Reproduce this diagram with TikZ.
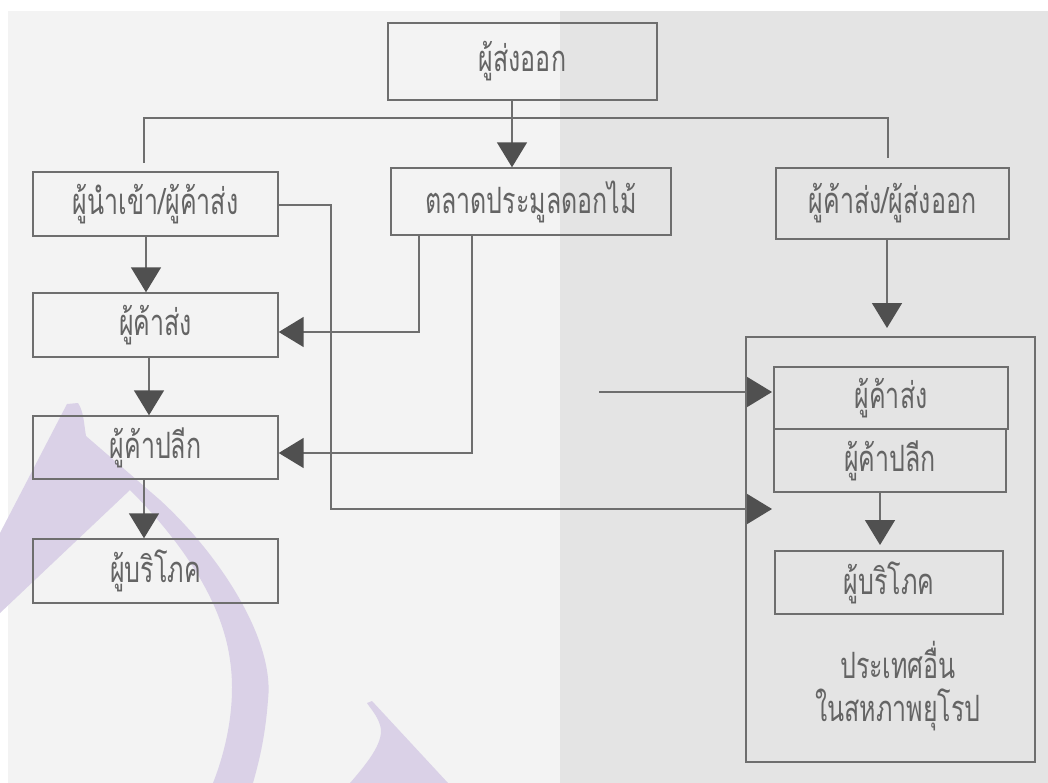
\documentclass[tikz,border=0pt]{standalone}
\usepackage{fontspec}
\usepackage{graphicx}
\newfontfamily\thaifont[Script=Thai]{Loma}
\usetikzlibrary{arrows.meta}
\definecolor{paperL}{HTML}{F3F3F3}
\definecolor{paperR}{HTML}{E4E4E4}
\definecolor{inkline}{HTML}{6E6E6E}
\definecolor{inktip}{HTML}{505050}
\definecolor{inktext}{HTML}{646464}
\definecolor{wmark}{HTML}{DAD1E7}
% tall, narrow lettering
\newcommand{\tall}[1]{\scalebox{1}[1.45]{#1}}
\tikzset{
  box/.style={draw=inkline, line width=1.4pt, rectangle, inner sep=0pt,
    font=\thaifont\fontsize{25}{28}\selectfont, text=inktext},
  ln/.style={draw=inkline, line width=1.6pt},
  ar/.style={ln, -{Triangle[length=25pt,width=30pt,color=inktip]}},
  lbl/.style={font=\thaifont\fontsize{25}{28}\selectfont, text=inktext, inner sep=0pt}
}
\begin{document}
\begin{tikzpicture}[x=1pt,y=-1pt]
% paper
\fill[white] (0,0) rectangle (1048,783);
\fill[paperL] (8,11) rectangle (560,783);
\fill[paperR] (560,11) rectangle (1048,783);
\useasboundingbox (0,0) rectangle (1048,783);
% watermark strokes
\fill[wmark] (67,404) -- (78,403) .. controls (84,412) and (84,425) .. (86,436)
  -- (160,500) .. controls (220,555) and (275,640) .. (268,700)
  .. controls (265,740) and (258,765) .. (253,783) -- (213,783)
  .. controls (228,745) and (236,700) .. (230,660)
  .. controls (222,600) and (180,540) .. (130,490)
  -- (0,613) -- (0,533) -- cycle;
\fill[wmark] (367,703) -- (372,701) -- (448,783) -- (350,783)
  .. controls (370,760) and (385,740) .. (380,725)
  .. controls (377,715) and (370,708) .. (367,703) -- cycle;

% boxes
\node[box, minimum width=269pt, minimum height=77pt] (exp) at (522.5,61.5) {\tall{ผู้ส่งออก}};
\node[box, minimum width=245pt, minimum height=64pt] (imp) at (155.5,204) {\tall{ผู้นำเข้า/ผู้ค้าส่ง}};
\node[box, minimum width=280pt, minimum height=67pt] (mkt) at (531,201.5) {\tall{ตลาดประมูลดอกไม้}};
\node[box, minimum width=233pt, minimum height=71pt] (wex) at (892.5,203.5) {\tall{ผู้ค้าส่ง/ผู้ส่งออก}};
\node[box, minimum width=245pt, minimum height=64pt] (ws) at (155.5,325) {\tall{ผู้ค้าส่ง}};
\node[box, minimum width=245pt, minimum height=63pt] (rt) at (155.5,447.5) {\tall{ผู้ค้าปลีก}};
\node[box, minimum width=245pt, minimum height=64pt] (cons) at (155.5,571) {\tall{ผู้บริโภค}};
\node[box, minimum width=289pt, minimum height=425pt] (eu) at (890.5,549.5) {};
\node[box, minimum width=234pt, minimum height=62pt] (euws) at (891,398) {\tall{ผู้ค้าส่ง}};
\node[box, minimum width=232pt, minimum height=63pt] (eurt) at (890,460.5) {\tall{ผู้ค้าปลีก}};
\node[box, minimum width=228pt, minimum height=63pt] (eucons) at (889,582.5) {\tall{ผู้บริโภค}};
\node[lbl] (eu1) at (898,660) {\tall{ประเทศอื่น}};
\node[lbl] (eu2) at (898,710) {\tall{ในสหภาพยุโรป}};

% junction points
\coordinate (barL) at (144,118);
\coordinate (barR) at (888,118);
\coordinate (impUp) at (144,163);
\coordinate (wexUp) at (888,158);
\coordinate (midX) at (512,0);
\coordinate (mA) at (419,0);
\coordinate (mB) at (472,0);
\coordinate (wsIn) at (0,332);
\coordinate (rtIn) at (0,453);
\coordinate (loopX) at (331,0);
\coordinate (loopY) at (0,509);
\coordinate (euTip) at (772,0);
\coordinate (freeStart) at (599,392);

% exporter distribution bar
\draw[ln] (impUp) -- (barL) -- (barR) -- (wexUp);
\draw[ar] (exp.south -| midX) -- (mkt.north -| midX);

% left chain
\draw[ar] (imp.south -| 146,0) -- (ws.north -| 146,0);
\draw[ar] (ws.south -| 149,0) -- (rt.north -| 149,0);
\draw[ar] (rt.south -| 144,0) -- (cons.north -| 144,0);

% auction market feeds
\draw[ar] (mkt.south -| mA) |- (ws.east |- wsIn);
\draw[ar] (mkt.south -| mB) |- (rt.east |- rtIn);

% importer route to the EU box
\draw[ar] (imp.east |- 0,205) -| (loopX |- loopY) -- (euTip |- loopY);
\draw[ar] (freeStart) -- (euTip |- freeStart);

% right side
\draw[ar] (wex.south -| 887,0) -- (887,328);
\draw[ar] (eurt.south -| 880,0) -- (880,545);
\end{tikzpicture}
\end{document}
